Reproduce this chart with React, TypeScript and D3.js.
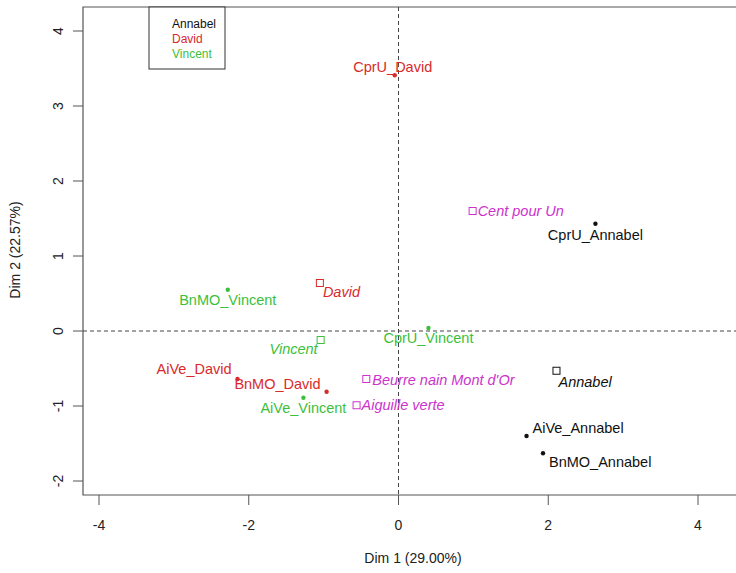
import React from 'react';
import * as d3 from 'd3';

// individuals (mean points), drawn as open squares with italic labels
const indNames = ["Cent pour Un", "Annabel", "David", "Vincent", "Beurre nain Mont d'Or", "Aiguille verte"];
const indX = [0.99, 2.11, -1.05, -1.04, -0.43, -0.56];
const indY = [1.60, -0.53, 0.64, -0.12, -0.64, -0.99];
const indGroup = ["product", "Annabel", "David", "Vincent", "product", "product"];

// partial points per judge
const partNames = ["CprU_David", "CprU_Annabel", "CprU_Vincent", "BnMO_Vincent", "BnMO_David", "AiVe_David", "AiVe_Vincent", "AiVe_Annabel", "BnMO_Annabel"];
const partX = [-0.05, 2.63, 0.40, -2.28, -0.96, -2.15, -1.27, 1.71, 1.93];
const partY = [3.41, 1.43, 0.04, 0.55, -0.81, -0.64, -0.89, -1.40, -1.63];
const partGroup = ["David", "Annabel", "Vincent", "Vincent", "David", "David", "Vincent", "Annabel", "Annabel"];

const judges = ["Annabel", "David", "Vincent"];
const xTicks = [-4, -2, 0, 2, 4];
const yTicks = [-2, -1, 0, 1, 2, 3, 4];

const colors: Record<string, string> = {
  Annabel: "#111111",
  David: "#d92a2a",
  Vincent: "#3cbf3c",
  product: "#cc33cc",
};

// label placement relative to the point: [dx, dy, anchor]
const indLab: [number, number, string][] = [
  [5, 5, "start"], [2, 16, "start"], [3, 14, "start"],
  [-3, 14, "end"], [6, 6, "start"], [5, 5, "start"],
];
const partLab: [number, number, string][] = [
  [-2, -3, "middle"], [0, 16, "middle"], [0, 15, "middle"],
  [0, 15, "middle"], [-6, -3, "end"], [-6, -5, "end"],
  [0, 15, "middle"], [6, -3, "start"], [6, 14, "start"],
];

const W = 736;
const H = 573;
const font = "'Liberation Sans', Arial, sans-serif";

export default function App() {
  const x = d3.scaleLinear().domain([-4, 4]).range([99, 698]);
  const y = d3.scaleLinear().domain([-2, 4]).range([481, 31]);
  const left = 83, top = 7, bottom = 495, right = W + 5;
  const frame = "#555";

  return (
    <div style={{ position: "fixed", left: 0, top: 0 }}>
      <svg width={W} height={H} style={{ display: "block", background: "#fff" }} fontFamily={font}>
        {/* frame */}
        <path d={`M${right},${top}H${left}V${bottom}H${right}`} fill="none" stroke={frame} strokeWidth={1.2} />

        {/* x axis */}
        {xTicks.map(t => (
          <g key={"x" + t}>
            <line x1={x(t)} x2={x(t)} y1={bottom} y2={bottom + 10} stroke={frame} />
            <text x={x(t)} y={bottom + 35} textAnchor="middle" fontSize={14} fill="#222">{t}</text>
          </g>
        ))}
        {/* y axis */}
        {yTicks.map(t => (
          <g key={"y" + t}>
            <line x1={left - 10} x2={left} y1={y(t)} y2={y(t)} stroke={frame} />
            <text transform={`translate(63,${y(t)}) rotate(-90)`} textAnchor="middle" fontSize={14} fill="#222">{t}</text>
          </g>
        ))}

        <text x={413} y={563} textAnchor="middle" fontSize={14} fill="#222">Dim 1 (29.00%)</text>
        <text transform="translate(20,250) rotate(-90)" textAnchor="middle" fontSize={14} fill="#222">Dim 2 (22.57%)</text>

        {/* reference lines */}
        <line x1={x(0)} x2={x(0)} y1={top} y2={bottom} stroke="#444" strokeDasharray="4,3" />
        <line x1={left} x2={right} y1={y(0)} y2={y(0)} stroke="#444" strokeDasharray="4,3" />

        {/* partial points */}
        {partNames.map((n, i) => {
          const px = x(partX[i]), py = y(partY[i]);
          const [dx, dy, anchor] = partLab[i];
          const c = colors[partGroup[i]];
          return (
            <g key={n}>
              <circle cx={px} cy={py} r={2.2} fill={c} />
              <text x={px + dx} y={py + dy} textAnchor={anchor as any} fontSize={14.5} fill={c}>{n}</text>
            </g>
          );
        })}

        {/* individuals */}
        {indNames.map((n, i) => {
          const px = x(indX[i]), py = y(indY[i]);
          const [dx, dy, anchor] = indLab[i];
          const c = colors[indGroup[i]];
          return (
            <g key={n}>
              <rect x={px - 3.5} y={py - 3.5} width={7} height={7} fill="none" stroke={c} strokeWidth={1} />
              <text x={px + dx} y={py + dy} textAnchor={anchor as any} fontSize={14.5} fontStyle="italic" fill={c}>{n}</text>
            </g>
          );
        })}

        {/* legend */}
        <rect x={149} y={top} width={76} height={62} fill="#fff" stroke="#333" strokeWidth={1} />
        {judges.map((j, i) => (
          <text key={j} x={172} y={28 + i * 15} fontSize={12} fill={colors[j]}>{j}</text>
        ))}
      </svg>
    </div>
  );
}
